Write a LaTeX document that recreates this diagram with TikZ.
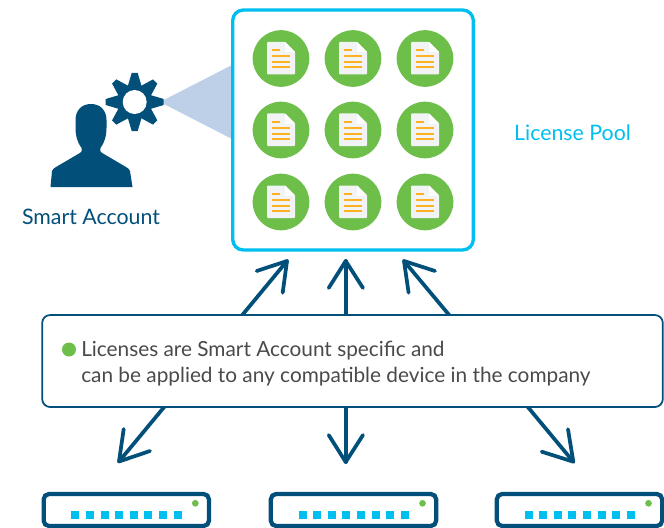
\documentclass[tikz,border=0pt]{standalone}
\usepackage{fontspec}
\setmainfont{Lato}
\definecolor{navy}{HTML}{024F7A}
\definecolor{sky}{HTML}{00BFF0}
\definecolor{leaf}{HTML}{6EBE4A}
\definecolor{amber}{HTML}{FFB11F}
\definecolor{paper}{HTML}{F2F3F5}
\definecolor{wedge}{HTML}{BDD0E8}
\definecolor{txt}{HTML}{4A4A4A}
\tikzset{
  x=0.75pt,y=-0.75pt,
  poolbox/.style={draw=sky,line width=2.5pt,rounded corners=8pt,fill=white,minimum width=180.5pt,minimum height=180pt,inner sep=0pt,outer sep=0pt},
  callout/.style={draw=navy,line width=1.3pt,rounded corners=6pt,fill=white,minimum width=465.5pt,minimum height=69pt,inner sep=0pt,outer sep=0pt},
  devbox/.style={draw=navy,line width=3.2pt,rounded corners=4pt,fill=white,minimum width=124pt,minimum height=24pt,inner sep=0pt,outer sep=0pt},
  arr/.style={draw=navy,line width=2.8pt,line cap=round},
  tipbarb/.style={draw=navy,line width=2.8pt,line cap=round,line join=round},
  licdot/.style={circle,fill=leaf,minimum size=42.5pt,inner sep=0pt,outer sep=0pt},
  port/.style={fill=sky,minimum size=6pt,inner sep=0pt,outer sep=0pt},
  led/.style={circle,fill=leaf,minimum size=5pt,inner sep=0pt,outer sep=0pt},
  lab/.style={font=\fontsize{16pt}{19pt}\selectfont,inner sep=0pt},
  note/.style={font=\fontsize{15.6pt}{19pt}\selectfont,text=txt,inner sep=0pt,anchor=base west},
  docline/.style={draw=amber,line width=1.5pt},
}
\newcommand{\lic}[3]{%
  \node[licdot] (#1) at (#2,#3) {};
  \fill[paper,rounded corners=0.6pt] (#2-14,#3-16.5) -- (#2+4,#3-16.5) -- (#2+14,#3-6.5) -- (#2+14,#3+16) -- (#2-14,#3+16) -- cycle;
  \fill[white] (#2+4,#3-16.5) -- (#2+14,#3-6.5) -- (#2+4,#3-6.5) -- cycle;
  \draw[docline] (#2-9,#3-8.5) -- (#2-1,#3-8.5);
  \draw[docline] (#2-9,#3-2.5) -- (#2+9,#3-2.5);
  \draw[docline] (#2-9,#3+3.5) -- (#2+9,#3+3.5);
  \draw[docline] (#2-9,#3+9) -- (#2+9,#3+9);
}
\newcommand{\device}[2]{%
  \node[devbox] (#1) at (#2,510) {};
  \foreach \i in {0,...,7} \node[port] at (#2-51+14.6*\i,515.3) {};
  \node[led] at (#2+69,503.3) {};
}
\begin{document}
\begin{tikzpicture}
\useasboundingbox (0,0) rectangle (664,528);
% wedge
\fill[wedge] (160,102) -- (233,64.5) -- (233,139.5) -- cycle;
% person
\fill[navy] (50.5,187) -- (52,171) .. controls (53,169) and (54,168) .. (56,167) -- (79,153.5) .. controls (82,152) and (82.5,150) .. (81.5,148)
  .. controls (77,142) and (75.5,135) .. (75.5,128) -- (75.5,120) .. controls (75.5,110) and (82,104) .. (91,104)
  .. controls (100,104) and (106.5,110) .. (106.5,120) -- (106.5,128) .. controls (106.5,135) and (105,142) .. (100.5,148)
  .. controls (99.5,150) and (100,152) .. (103,153.5) -- (126,167) .. controls (128,168) and (129,169) .. (130,171) -- (132.5,187) -- cycle;
% gear
\foreach \a in {0,45,...,315}{
  \fill[navy,shift={(134.7,102)},rotate=\a] (-3,-29) -- (3,-29) -- (7,-15.5) -- (-7,-15.5) -- cycle;
}
\fill[navy] (134.7,102) circle[radius=13pt];
\fill[white] (134.7,102) circle[radius=9pt];
% arrows below the boxes
\coordinate (ua0) at (241.5,316);
\coordinate (ua1) at (287,261);
\coordinate (ub0) at (345.7,316);
\coordinate (ub1) at (345.7,261);
\coordinate (uc0) at (450,316);
\coordinate (uc1) at (404,261);
\coordinate (da0) at (165,406);
\coordinate (da1) at (119,461.5);
\coordinate (db0) at (345.7,406);
\coordinate (db1) at (345.7,462);
\coordinate (dc0) at (527,406);
\coordinate (dc1) at (573.3,461.7);
\foreach \s/\e/\p/\q in {ua0/ua1/{256.7,271}/{282.7,292.7},ub0/ub1/{328.7,288}/{363,288},uc0/uc1/{408.6,292.7}/{435,271},da0/da1/{123.7,429}/{150,451},db0/db1/{328.7,435}/{363,435},dc0/dc1/{541.7,451.7}/{568,429.3}}{
  \draw[arr] (\s) -- (\e);
  \draw[tipbarb] (\p) -- (\e) -- (\q);
}
% pool
\node[poolbox] (pool) at (353,130) {};
\foreach \r/\y in {a/58.5,b/130,c/202}{
  \foreach \c/\x in {1/281,2/353,3/425}{
    \lic{lic\r\c}{\x}{\y}
  }
}
\node[lab,text=navy] (sa) at (91,216.5) {Smart Account};
\node[lab,text=sky] (lp) at (572.5,132.5) {License Pool};
% callout
\node[callout] (note) at (352.5,361) {};
\node[led,minimum size=10.5pt] (bullet) at (69,349.5) {};
\node[note] (l1) at (81,356.5) {Licenses are Smart Account specific and};
\node[note] (l2) at (81,382) {can be applied to any compatible device in the company};
% devices
\device{d1}{126.3}
\device{d2}{353.5}
\device{d3}{579.5}
\end{tikzpicture}
\end{document}
